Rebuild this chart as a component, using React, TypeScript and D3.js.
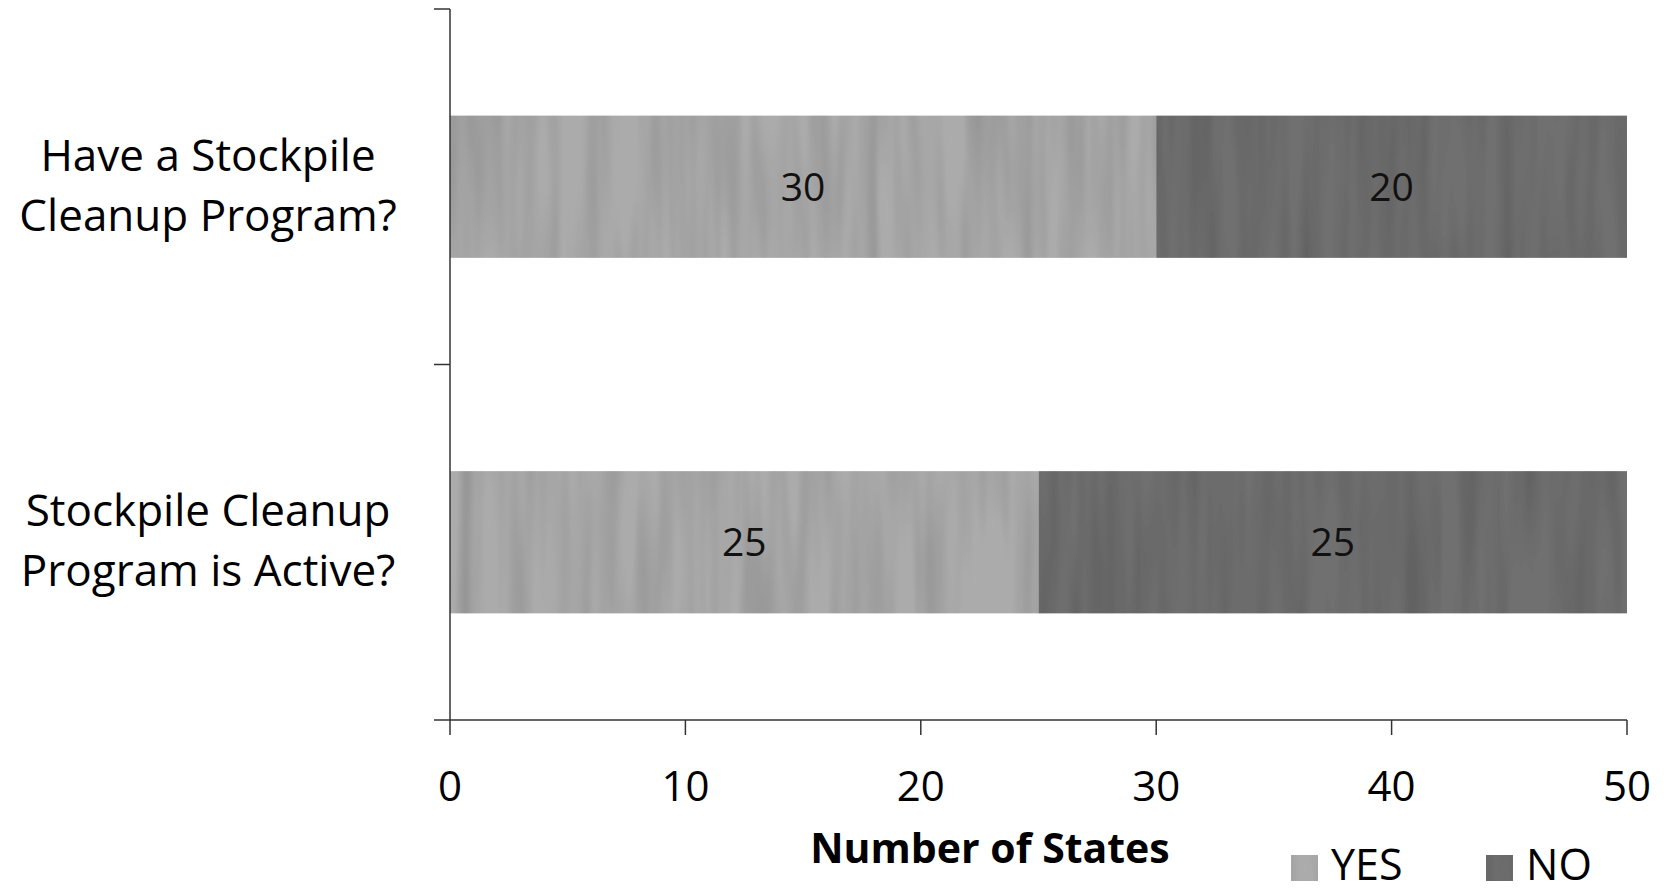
import React from "react";
import * as d3 from "d3";

const categories = ["Have a Stockpile|Cleanup Program?", "Stockpile Cleanup|Program is Active?"];
const yesValues = [30, 25];
const noValues = [20, 25];
const seriesNames = ["YES", "NO"];
const xTicks = [0, 10, 20, 30, 40, 50];

const W = 1667;
const H = 888;
const left = 450;
const right = 1627;
const top = 9;
const bottom = 720;
const FONT = "'Open Sans', Lato, sans-serif";
const YES_COLOR = "#ababab";
const NO_COLOR = "#707070";
const AXIS = "#333";

export default function App() {
  const x = d3.scaleLinear().domain([0, 50]).range([left, right]);
  const y = d3.scaleBand<number>().domain(d3.range(categories.length)).range([top, bottom]).paddingInner(0.6).paddingOuter(0.3);
  const bands = d3.scaleBand<number>().domain(d3.range(categories.length)).range([top, bottom]);
  const stack = categories.map((_, i) => [
    { s: 0, x0: 0, x1: yesValues[i], v: yesValues[i] },
    { s: 1, x0: yesValues[i], x1: yesValues[i] + noValues[i], v: noValues[i] },
  ]);
  const colors = [YES_COLOR, NO_COLOR];
  return (
    <svg width={W} height={H} style={{ position: "absolute", left: 0, top: 0, background: "#fff" }}>
      <defs>
        <filter id="grain" x="0" y="0" width="100%" height="100%">
          <feTurbulence type="fractalNoise" baseFrequency="0.05 0.004" numOctaves={2} seed={3} result="t" />
          <feColorMatrix in="t" type="matrix" values="0 0 0 0 0  0 0 0 0 0  0 0 0 0 0  0.35 0.35 0 0 -0.28" result="a" />
          <feComposite in="a" in2="SourceGraphic" operator="in" result="d" />
          <feMerge>
            <feMergeNode in="SourceGraphic" />
            <feMergeNode in="d" />
          </feMerge>
        </filter>
      </defs>
      {stack.map((segs, i) =>
        segs.map((seg) => (
          <g key={`${i}-${seg.s}`}>
            <rect
              x={x(seg.x0)}
              y={y(i)}
              width={x(seg.x1) - x(seg.x0)}
              height={y.bandwidth()}
              fill={colors[seg.s]}
              filter="url(#grain)"
            />
            <text
              x={(x(seg.x0) + x(seg.x1)) / 2}
              y={(y(i) as number) + y.bandwidth() / 2}
              dy="0.36em"
              textAnchor="middle"
              fontFamily={FONT}
              fontSize={39}
              fill="#111"
            >
              {seg.v}
            </text>
          </g>
        ))
      )}
      {/* y axis */}
      <line x1={left} x2={left} y1={top} y2={bottom} stroke={AXIS} strokeWidth={1.5} />
      {[top, (bands(1) as number), bottom].map((ty, i) => (
        <line key={i} x1={left - 16} x2={left} y1={ty} y2={ty} stroke={AXIS} strokeWidth={1.5} />
      ))}
      {/* x axis */}
      <line x1={left} x2={right} y1={bottom} y2={bottom} stroke={AXIS} strokeWidth={1.5} />
      {xTicks.map((t) => (
        <g key={t}>
          <line x1={x(t)} x2={x(t)} y1={bottom} y2={bottom + 15} stroke={AXIS} strokeWidth={1.5} />
          <text x={x(t)} y={801} textAnchor="middle" fontFamily={FONT} fontSize={42} fill="#000">
            {t}
          </text>
        </g>
      ))}
      {/* category labels */}
      {categories.map((c, i) => {
        const lines = c.split("|");
        const cy = (y(i) as number) + y.bandwidth() / 2;
        return (
          <text key={i} textAnchor="middle" fontFamily={FONT} fontSize={44} fill="#000">
            {lines.map((l, j) => (
              <tspan key={j} x={208} y={cy - 16 + j * 60}>
                {l}
              </tspan>
            ))}
          </text>
        );
      })}
      <text x={990} y={863} textAnchor="middle" fontFamily={FONT} fontWeight="bold" fontSize={41} fill="#000">
        Number of States
      </text>
      {/* legend */}
      {seriesNames.map((n, i) => {
        const lx = [1291, 1486][i];
        return (
          <g key={n}>
            <rect x={lx} y={855} width={27} height={26} fill={colors[i]} filter="url(#grain)" />
            <text x={lx + 40} y={880} fontFamily={FONT} fontSize={43} fill="#000">
              {n}
            </text>
          </g>
        );
      })}
    </svg>
  );
}
